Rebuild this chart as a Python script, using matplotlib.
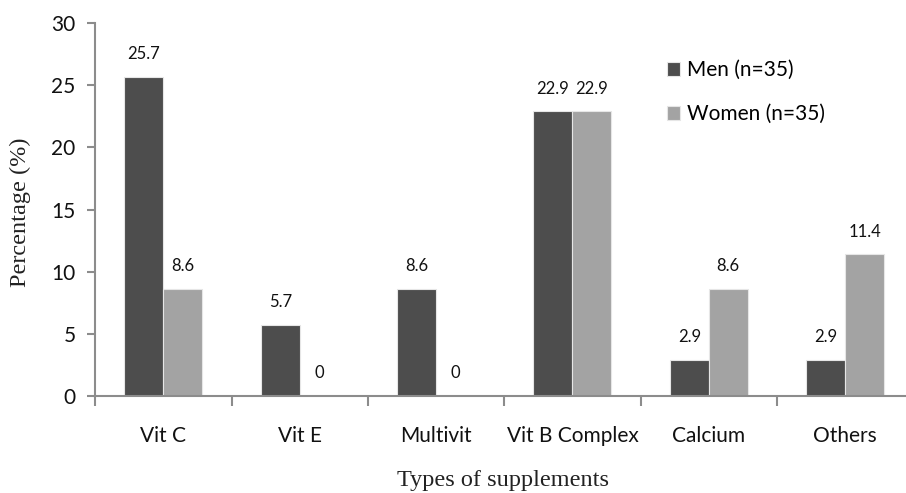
import numpy as np
import matplotlib
matplotlib.use("Agg")
from matplotlib import pyplot as plt
from matplotlib.ticker import FixedLocator

# Data
categories = ["Vit C", "Vit E", "Multivit", "Vit B Complex", "Calcium", "Others"]
men = [25.7, 5.7, 8.6, 22.9, 2.9, 2.9]
women = [8.6, 0, 0, 22.9, 8.6, 11.4]
series_labels = ["Men (n=35)", "Women (n=35)"]

men_color = "#4d4d4d"
women_color = "#a3a3a3"
spine_color = "#8c8c8c"
sans = ["Lato", "DejaVu Sans"]
serif = ["Liberation Serif", "DejaVu Serif"]

fig = plt.figure(figsize=(9.06, 4.93), dpi=100)
ax = fig.add_axes([0.105, 0.197, 0.895, 0.756])

x = np.arange(len(categories))
w = 0.286
b1 = ax.bar(x - w / 2, men, w, color=men_color, edgecolor="#e6e6e6", linewidth=0.8,
            label=series_labels[0])
b2 = ax.bar(x + w / 2, women, w, color=women_color, edgecolor="#e6e6e6", linewidth=0.8,
            label=series_labels[1])

for bars, vals in ((b1, men), (b2, women)):
    for rect, v in zip(bars, vals):
        ax.annotate(f"{v:g}", (rect.get_x() + rect.get_width() / 2, v),
                    xytext=(0, 10.5), textcoords="offset points",
                    ha="center", va="bottom", fontsize=12, family=sans, color="#111111")

ax.set_ylim(0, 30)
ax.set_yticks([0, 5, 10, 15, 20, 25, 30])
ax.set_xlim(-0.5, 5.446)
ax.set_xticks(x)
ax.set_xticklabels(categories)
ax.xaxis.set_minor_locator(FixedLocator(np.arange(-0.5, 6.0, 1.0)))
ax.tick_params(axis="x", which="major", length=0, pad=22, labelsize=15)
ax.tick_params(axis="x", which="minor", length=7, width=1.5, color=spine_color)
ax.tick_params(axis="y", length=6, width=1.5, color=spine_color, pad=8, labelsize=15)
for lab in ax.get_xticklabels() + ax.get_yticklabels():
    lab.set_family(sans)
    lab.set_color("#111111")

for s in ("top", "right"):
    ax.spines[s].set_visible(False)
for s in ("left", "bottom"):
    ax.spines[s].set_color(spine_color)
    ax.spines[s].set_linewidth(1.5)

fig.text(0.022, 0.57, "Percentage (%)", family=serif, fontsize=17.5,
         rotation=90, ha="center", va="center", color="#222222")
fig.text(0.555, 0.026, "Types of supplements", family=serif, fontsize=17.5,
         ha="center", va="center", color="#222222")

leg = ax.legend(loc="upper left", bbox_to_anchor=(0.736, 0.878), bbox_transform=fig.transFigure,
                frameon=False, prop={"family": sans, "size": 15},
                handlelength=0.62, handleheight=0.62, handletextpad=0.35,
                labelspacing=1.15, borderaxespad=0, borderpad=0)

fig.savefig("out.png", dpi=100)
